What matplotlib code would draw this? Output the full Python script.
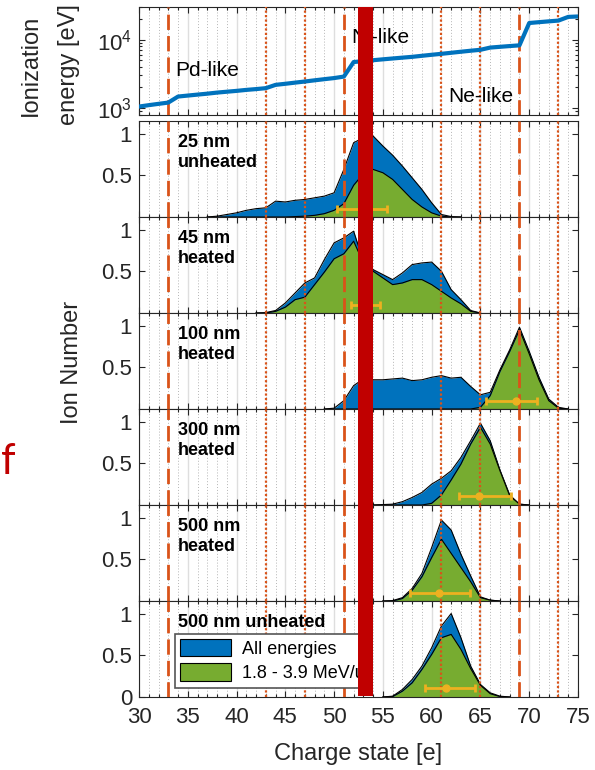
import matplotlib
matplotlib.use('Agg')
import matplotlib.pyplot as plt
import matplotlib.transforms as mtransforms
from matplotlib.patches import Patch, Rectangle
from matplotlib.ticker import MultipleLocator, LogLocator, NullFormatter, FixedLocator

plt.rcParams['font.family'] = ['Liberation Sans', 'DejaVu Sans']
plt.rcParams['mathtext.fontset'] = 'custom'
plt.rcParams['mathtext.rm'] = 'Liberation Sans'

# ---- data ----
charge = list(range(30, 76))
ion_energy = [1050, 1100, 1150, 1200, 1470, 1520, 1570, 1620, 1680, 1730,
              1780, 1840, 1890, 1950, 2180, 2260, 2350, 2440, 2540, 2640,
              2740, 2880, 4700, 4850, 5000, 5150, 5300, 5450, 5600, 5800,
              6000, 6200, 6420, 6650, 6880, 7100, 7650, 7850, 8050, 8250,
              17500, 18000, 18500, 19000, 21500, 21800]

shell_q = [33, 51, 69]          # dashed lines
sub_q = [43, 47, 61, 65, 73]    # dotted lines

labels = ['25 nm\nunheated', '45 nm\nheated', '100 nm\nheated',
          '300 nm\nheated', '500 nm\nheated', '500 nm unheated']

q_25 = list(range(37, 64))
all_25 = [0, 0.01, 0.03, 0.05, 0.08, 0.10, 0.11, 0.19, 0.18, 0.20, 0.21, 0.23, 0.25, 0.29,
          0.57, 0.89, 0.95, 0.97, 0.85, 0.74, 0.61, 0.47, 0.33, 0.17, 0.03, 0.005, 0]
sel_25 = [0, 0, 0, 0, 0, 0, 0, 0, 0, 0.005, 0.01, 0.02, 0.04, 0.08,
          0.16, 0.38, 0.52, 0.57, 0.53, 0.45, 0.33, 0.21, 0.12, 0.05, 0.01, 0, 0]

q_45 = list(range(42, 66))
all_45 = [0, 0.005, 0.03, 0.12, 0.24, 0.36, 0.42, 0.64, 0.84, 0.90, 0.98, 0.62,
          0.52, 0.46, 0.40, 0.48, 0.58, 0.60, 0.61, 0.50, 0.28, 0.16, 0.03, 0]
sel_45 = [0, 0, 0.02, 0.07, 0.16, 0.19, 0.34, 0.49, 0.65, 0.71, 0.86, 0.60,
          0.50, 0.42, 0.34, 0.36, 0.40, 0.40, 0.34, 0.26, 0.18, 0.11, 0.02, 0]

q_100 = list(range(49, 75))
all_100 = [0, 0.01, 0.10, 0.28, 0.36, 0.35, 0.35, 0.36, 0.37, 0.34, 0.35, 0.38, 0.40,
           0.37, 0.38, 0.27, 0.17, 0.20, 0.47, 0.71, 0.98, 0.69, 0.38, 0.12, 0.02, 0]
sel_100 = [0, 0, 0, 0, 0, 0, 0, 0, 0, 0, 0, 0, 0,
           0, 0, 0, 0.02, 0.16, 0.45, 0.69, 0.95, 0.66, 0.35, 0.10, 0.01, 0]

q_300 = list(range(54, 71))
all_300 = [0, 0.005, 0.01, 0.04, 0.09, 0.15, 0.25, 0.32, 0.41, 0.57, 0.77, 0.98, 0.77, 0.42, 0.12, 0.01, 0]
sel_300 = [0, 0, 0, 0, 0, 0, 0.02, 0.12, 0.30, 0.49, 0.73, 0.93, 0.73, 0.41, 0.11, 0.01, 0]

q_500h = list(range(55, 68))
all_500h = [0, 0.005, 0.04, 0.15, 0.33, 0.64, 0.97, 0.85, 0.56, 0.30, 0.05, 0.01, 0]
sel_500h = [0, 0, 0.03, 0.13, 0.29, 0.52, 0.74, 0.57, 0.40, 0.23, 0.04, 0.01, 0]

q_500u = list(range(55, 69))
all_500u = [0, 0.01, 0.09, 0.21, 0.37, 0.59, 0.85, 1.0, 0.71, 0.37, 0.15, 0.05, 0.01, 0]
sel_500u = [0, 0.005, 0.07, 0.17, 0.33, 0.51, 0.71, 0.75, 0.57, 0.34, 0.14, 0.04, 0.005, 0]

# error bars: centre, left, right, height
err_c = [52.9, 53.2, 68.6, 64.9, 60.8, 61.5]
err_l = [2.6, 1.5, 3.0, 2.1, 3.0, 2.2]
err_r = [2.5, 1.5, 2.2, 3.2, 3.1, 2.9]
err_y = [0.10, 0.09, 0.09, 0.11, 0.10, 0.11]

panels = [(q_25, all_25, sel_25), (q_45, all_45, sel_45), (q_100, all_100, sel_100),
          (q_300, all_300, sel_300), (q_500h, all_500h, sel_500h), (q_500u, all_500u, sel_500u)]

blue = '#0072BD'
green = '#77AC30'
orange = '#D95319'
yellow = '#EDB120'
W, H = 595, 770

fig = plt.figure(figsize=(W / 100, H / 100), dpi=100, facecolor='white')
left = 139 / W
width = (578 - 139) / W


def style_axes(ax):
    ax.set_xlim(30, 75)
    ax.xaxis.set_major_locator(MultipleLocator(5))
    ax.xaxis.set_minor_locator(MultipleLocator(1))
    ax.grid(True, which='major', axis='x', color='#dedede', lw=1.0, ls='-')
    ax.grid(True, which='minor', axis='x', color='#b5b5b5', lw=0.7, ls=(0, (1, 2)))
    ax.set_axisbelow(True)
    ax.tick_params(which='both', direction='in', top=True, right=True,
                   labelsize=16, colors='#262626', width=0.8)
    ax.tick_params(which='major', length=4)
    ax.tick_params(which='minor', length=2.5)
    ax.tick_params(axis='x', pad=7)
    ax.tick_params(axis='y', pad=5)
    for s in ax.spines.values():
        s.set_color('#262626')
        s.set_linewidth(0.8)
    for q in shell_q:
        ax.axvline(q, color=orange, lw=2.0, ls=(0, (5.5, 2.2)), zorder=3)
    for q in sub_q:
        ax.axvline(q, color=orange, lw=1.6, ls=(0, (1, 1)), zorder=3)


# top panel: ionization energy
ax0 = fig.add_axes([left, 1 - 115 / H, width, (115 - 7) / H])
style_axes(ax0)
ax0.semilogy(charge, ion_energy, color=blue, lw=3, zorder=4)
ax0.set_ylim(790, 3.0e4)
ax0.yaxis.set_major_locator(FixedLocator([1e3, 1e4]))
ax0.yaxis.set_minor_locator(LogLocator(subs=range(2, 10)))
ax0.yaxis.set_minor_formatter(NullFormatter())
ax0.tick_params(labelbottom=False)
ax0.text(33.7, 3.5e3, 'Pd-like', fontsize=15, va='center', zorder=5)
ax0.text(51.8, 1.07e4, 'Ni-like', fontsize=15, va='center', zorder=5)
ax0.text(61.7, 1.45e3, 'Ne-like', fontsize=15, va='center', zorder=5)

# charge state panels
top = 121
ph = 96
axes = []
for i, (q, a, s) in enumerate(panels):
    y0 = top + i * ph
    ax = fig.add_axes([left, 1 - (y0 + ph) / H, width, ph / H])
    style_axes(ax)
    ax.fill_between(q, a, color=blue, lw=0, zorder=2)
    ax.plot(q, a, color='black', lw=0.8, zorder=2)
    ax.fill_between(q, s, color=green, lw=0, zorder=2)
    ax.plot(q, s, color='black', lw=0.8, zorder=2)
    ax.errorbar([err_c[i]], [err_y[i]], xerr=[[err_l[i]], [err_r[i]]], fmt='o',
                color=yellow, ms=5, lw=2, capsize=3, capthick=2, zorder=4)
    ax.set_ylim(0, 1.15)
    ax.text(34.0, 1.0, labels[i], fontsize=13, fontweight='bold', va='top',
            linespacing=1.3, zorder=5)
    if i < len(panels) - 1:
        ax.set_yticks([0.5, 1])
        ax.set_yticklabels(['0.5', '1'])
        ax.tick_params(labelbottom=False)
    else:
        ax.set_yticks([0, 0.5, 1])
        ax.set_yticklabels(['0', '0.5', '1'])
    axes.append(ax)

axb = axes[-1]
handles = [Patch(facecolor=blue, edgecolor='black', lw=0.8),
           Patch(facecolor=green, edgecolor='black', lw=0.8)]
leg = axb.legend(handles, ['All energies', '1.8 - 3.9 MeV/u'], loc='upper left',
                 bbox_to_anchor=(0.082, 0.66), borderaxespad=0, fontsize=13,
                 handlelength=2.8, handleheight=1.1, fancybox=False, framealpha=1,
                 edgecolor='#555555', borderpad=0.3, labelspacing=0.3, handletextpad=0.6)
leg.get_frame().set_linewidth(1.2)
leg.set_zorder(6)

# red marker bar across all panels
trans = mtransforms.blended_transform_factory(axb.transData, fig.transFigure)
fig.add_artist(Rectangle((52.45, 1 - 696 / H), 1.55, (696 - 7) / H, transform=trans,
                         facecolor='#C00000', edgecolor='none', zorder=10))

# labels
fig.text(50 / W, 1 - 65 / H, 'Ionization\nenergy [eV]', rotation=90, ha='center',
         va='center', fontsize=17, linespacing=1.95, multialignment='center', color='#262626')
fig.text(72 / W, 1 - 362 / H, 'Ion Number', rotation=90, ha='center', va='center',
         fontsize=17, color='#262626')
fig.text(358 / W, 1 - 754 / H, 'Charge state [e]', ha='center', va='center',
         fontsize=17, color='#262626')
fig.text(1 / W, 1 - 462 / H, 'f', ha='left', va='center', fontsize=30,
         color='#C00000', family=['Lato', 'DejaVu Sans'])

fig.savefig('out.png', dpi=100, facecolor='white')
